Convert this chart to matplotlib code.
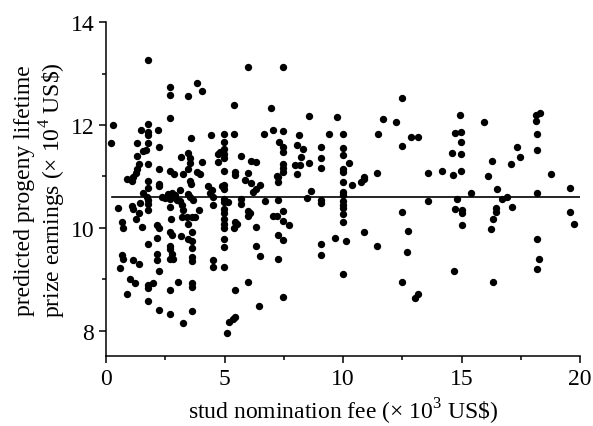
import matplotlib.pyplot as plt

plt.rcParams['font.family'] = ['Liberation Serif', 'DejaVu Serif']
plt.rcParams['mathtext.fontset'] = 'custom'
plt.rcParams['mathtext.rm'] = 'Liberation Serif'

# stud nomination fee (x 10^3 US$) and predicted progeny earnings (x 10^4 US$)
pts = [
    (1.78, 13.27), (2.70, 12.74), (2.70, 12.59), (3.47, 12.57), (3.85, 12.81), (4.06, 12.67), (2.70, 12.14),
    (5.98, 13.13), (7.48, 13.14), (5.41, 12.40), (6.96, 12.34), (8.58, 12.17), (9.73, 12.16),
    (4.98, 11.82), (5.41, 11.82), (6.68, 11.82), (7.03, 11.90), (7.48, 11.88), (8.16, 11.80),
    (9.42, 11.82), (9.99, 11.83), (4.98, 11.67), (7.31, 11.67), (7.48, 11.57), (7.48, 11.48),
    (8.05, 11.62), (8.30, 11.53), (9.07, 11.58), (9.99, 11.55), (9.99, 11.42), (4.98, 11.54),
    (4.98, 11.44), (4.98, 11.36), (5.68, 11.39), (6.11, 11.30), (6.33, 11.28), (8.23, 11.38),
    (9.07, 11.35), (7.48, 11.25), (7.48, 11.17), (7.48, 11.09), (7.97, 11.23), (8.19, 11.23),
    (8.57, 11.26), (9.07, 11.17), (9.99, 11.15), (9.99, 11.09), (10.27, 11.27), (4.98, 11.11),
    (5.44, 11.09), (5.44, 11.02), (5.98, 11.07), (7.20, 11.00), (8.05, 11.04),
    (12.48, 12.53), (11.67, 12.12), (12.24, 12.06), (11.46, 11.83), (12.86, 11.76), (13.15, 11.76),
    (12.48, 11.60), (10.89, 10.99), (11.42, 11.07), (13.60, 11.07), (14.16, 11.10), (14.63, 11.03),
    (14.94, 12.19), (14.73, 11.85), (14.97, 11.86), (14.98, 11.67), (14.61, 11.46), (14.97, 11.44),
    (14.97, 11.10),
    (15.96, 12.06), (18.14, 12.20), (18.31, 12.24), (18.14, 12.07), (18.17, 11.83), (17.33, 11.57),
    (17.47, 11.38), (16.30, 11.31), (17.08, 11.25), (18.17, 11.52), (16.13, 11.00), (18.76, 11.05),
    (15.39, 10.67), (16.49, 10.76), (16.72, 10.57), (16.91, 10.60), (17.12, 10.41), (18.17, 10.67),
    (19.58, 10.78), (15.01, 10.34), (15.01, 10.29), (15.01, 10.06), (16.46, 10.39), (16.46, 10.31),
    (16.32, 10.18), (16.24, 9.97), (19.58, 10.31), (19.75, 10.08), (18.17, 9.79), (18.28, 9.40),
    (18.17, 9.19), (16.34, 8.94),
    (9.99, 10.89), (10.39, 10.84), (10.76, 10.90), (10.90, 10.96), (9.99, 10.69), (9.99, 10.63),
    (9.99, 10.52), (9.99, 10.45), (9.99, 10.39), (9.99, 10.26), (9.99, 10.12), (13.60, 10.52),
    (14.80, 10.57), (14.73, 10.37), (12.48, 10.31), (12.73, 9.94), (10.89, 9.92), (10.13, 9.75),
    (11.42, 9.65), (12.69, 9.53), (9.99, 9.10), (12.48, 8.95), (13.15, 8.72), (13.05, 8.63),
    (14.68, 9.16),
    (7.27, 10.99), (7.27, 10.90), (5.86, 10.94), (6.11, 10.88), (6.50, 10.84), (6.33, 10.75),
    (6.19, 10.70), (4.98, 10.83), (4.98, 10.75), (4.98, 10.57), (4.98, 10.50), (5.16, 10.50),
    (5.68, 10.57), (5.68, 10.47), (6.71, 10.52), (7.27, 10.54), (8.64, 10.71), (8.47, 10.58),
    (9.06, 10.54), (9.06, 10.49), (4.98, 10.37), (4.98, 10.28), (4.98, 10.18), (4.98, 10.08),
    (4.98, 10.00), (5.44, 10.12), (5.40, 10.00), (5.54, 10.08), (6.00, 10.32), (6.08, 10.28),
    (6.00, 10.24), (6.33, 10.01), (7.03, 10.23), (7.23, 10.23), (7.46, 10.32), (7.46, 10.14),
    (7.72, 10.06), (4.98, 9.78), (4.98, 9.63), (6.33, 9.65), (6.50, 9.46), (7.24, 9.87),
    (7.48, 9.76), (7.24, 9.40), (9.06, 9.69), (9.06, 9.48), (9.66, 9.81), (4.98, 9.23),
    (5.98, 8.94), (5.44, 8.80), (7.48, 8.65), (6.47, 8.48), (5.44, 8.27), (5.35, 8.22),
    (5.20, 8.16), (5.09, 7.95),
    (0.28, 12.01), (0.21, 11.66), (1.78, 12.03), (1.48, 11.91), (1.78, 11.86), (1.78, 11.80),
    (2.18, 11.91), (1.30, 11.66), (1.78, 11.66), (2.24, 11.57), (3.59, 11.75), (4.43, 11.80),
    (1.57, 11.50), (1.69, 11.52), (1.32, 11.39), (1.41, 11.25), (1.78, 11.25), (2.25, 11.15),
    (3.15, 11.38), (3.47, 11.46), (3.54, 11.36), (3.54, 11.26), (4.06, 11.29), (4.74, 11.44),
    (4.81, 11.48), (4.74, 11.28), (1.32, 11.15), (1.27, 11.07), (1.15, 10.99), (0.87, 10.96),
    (1.08, 10.92), (2.70, 11.11), (2.87, 11.04), (3.24, 11.04), (3.47, 11.15), (3.83, 11.09),
    (3.97, 11.05), (3.54, 10.92), (1.78, 10.92), (2.25, 10.86), (2.25, 10.81), (1.78, 10.78),
    (4.32, 10.82), (4.46, 10.74), (4.88, 10.82), (1.57, 10.67), (2.35, 10.61), (2.49, 10.58),
    (2.63, 10.65), (2.77, 10.67), (2.91, 10.63), (3.12, 10.74), (2.70, 10.57), (2.98, 10.54),
    (3.54, 10.60), (3.47, 10.66), (3.57, 10.86), (3.12, 10.52), (1.78, 10.55),
    (1.72, 10.60), (3.68, 10.54), (4.53, 10.60), (4.39, 10.67), (0.52, 10.39), (1.08, 10.42),
    (1.15, 10.36), (1.43, 10.49), (1.41, 10.28), (1.27, 10.18), (1.78, 10.47), (1.78, 10.34),
    (2.70, 10.41), (2.73, 10.18), (3.19, 10.44), (3.26, 10.34), (3.19, 10.21), (3.40, 10.21),
    (3.62, 10.21), (3.76, 10.21), (3.94, 10.34), (3.45, 10.08), (3.62, 9.92), (4.53, 10.44),
    (0.66, 10.12), (0.70, 9.99), (1.51, 10.02), (2.14, 10.05), (2.25, 10.00), (2.70, 9.92),
    (2.77, 9.87), (3.15, 9.84), (3.47, 9.79), (3.62, 9.74), (2.14, 9.81), (1.78, 9.68),
    (2.70, 9.65), (2.70, 9.58), (2.77, 9.50), (2.70, 9.40), (2.84, 9.39), (3.62, 9.61),
    (2.14, 9.50), (2.16, 9.38), (0.66, 9.48), (0.70, 9.40), (1.15, 9.37), (1.41, 9.29),
    (0.59, 9.21), (2.25, 9.17), (3.62, 9.44), (3.62, 9.35), (4.53, 9.37), (4.53, 9.24),
    (1.01, 9.00), (1.22, 8.92), (1.78, 8.89), (1.97, 8.92), (1.78, 8.83), (3.05, 8.95),
    (3.62, 8.92), (3.62, 8.85), (2.70, 8.79), (0.87, 8.71), (1.78, 8.57), (2.25, 8.41),
    (2.70, 8.32), (3.62, 8.38), (3.24, 8.14),
]
fee = [p[0] for p in pts]
earnings = [p[1] for p in pts]

# fitted (flat) regression line
fit_fee = [0.25, 20.0]
fit_level = 10.61

fig = plt.figure(figsize=(5.93, 4.27), dpi=100)
ax = fig.add_axes([0.1788, 0.1632, 0.7993, 0.7822])

ax.scatter(fee, earnings, s=28, color='black', linewidths=0, zorder=3)
ax.plot(fit_fee, [fit_level, fit_level], color='black', lw=1.2, zorder=2)

ax.set_xlim(0, 20)
ax.set_ylim(7.5, 14)
ax.set_xticks([0, 5, 10, 15, 20])
ax.set_xticks([2.5, 7.5, 12.5, 17.5], minor=True)
ax.set_yticks([8, 10, 12, 14])
ax.set_yticks([9, 11, 13], minor=True)

for s in ['top', 'right']:
    ax.spines[s].set_visible(False)
for s in ['left', 'bottom']:
    ax.spines[s].set_linewidth(1.1)

ax.tick_params(which='major', length=5, width=1.1, labelsize=17, direction='out')
ax.tick_params(which='minor', length=3, width=1.1, direction='out')

ax.set_xlabel('stud nomination fee (× 10$^3$ US\\$)', fontsize=17, labelpad=5)
ax.set_ylabel('predicted progeny lifetime\nprize earnings (× 10$^4$ US\\$)', fontsize=17,
              linespacing=1.1, labelpad=2)

fig.savefig('out.png', dpi=100)
